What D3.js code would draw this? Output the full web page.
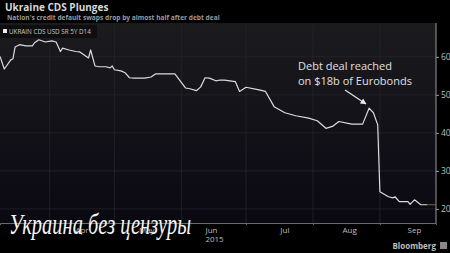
<!DOCTYPE html>
<html>
<head>
<meta charset="UTF-8">
<script src="https://d3js.org/d3.v7.min.js"></script>
<style>
  body { margin: 0; background: #000; }
  svg { display: block; }
  text { font-family: 'Open Sans', 'DejaVu Sans', sans-serif; }
</style>
</head>
<body>
<svg id="chart" width="450" height="253"></svg>
<script>
// values
var dates = ["2015-03-09","2015-03-11","2015-03-14","2015-03-15","2015-03-16","2015-03-18","2015-03-21",
  "2015-03-24","2015-03-25","2015-03-27","2015-03-30","2015-04-02","2015-04-04","2015-04-06","2015-04-07",
  "2015-04-10","2015-04-13","2015-04-15","2015-04-17","2015-04-19","2015-04-20","2015-04-22","2015-04-24",
  "2015-04-27","2015-04-29","2015-04-30","2015-05-01","2015-05-04","2015-05-06","2015-05-08","2015-05-10",
  "2015-05-15","2015-05-18","2015-05-20","2015-05-29","2015-05-30","2015-06-03","2015-06-05","2015-06-08",
  "2015-06-10","2015-06-12","2015-06-14","2015-06-17","2015-06-19","2015-06-21","2015-06-26","2015-06-28",
  "2015-07-01","2015-07-07","2015-07-10","2015-07-14","2015-07-19","2015-07-24","2015-07-30","2015-08-03",
  "2015-08-07","2015-08-10","2015-08-13","2015-08-19","2015-08-24","2015-08-27","2015-08-29","2015-08-31",
  "2015-09-01","2015-09-02","2015-09-05","2015-09-07","2015-09-08","2015-09-10","2015-09-14","2015-09-15",
  "2015-09-17","2015-09-20","2015-09-23"];
var cds = [60.1,56.8,59.2,59.5,62.6,63.2,62.9,
  62.9,63.7,64.5,63.9,64.2,63.9,61.4,62.3,
  61.8,61.4,61.3,60.5,59.7,61.8,57.6,57.4,
  57.4,57.1,57.6,56.6,56.3,55.8,54.5,54.4,
  54.4,54.7,55.5,55.5,54.8,51.8,51.6,51.1,
  52.1,54.5,54.4,53.7,53.9,53.9,53.5,50.9,
  52.0,51.3,50.9,46.9,45.3,44.5,43.9,43.2,
  41.2,41.7,43.0,42.3,42.3,46.5,45.3,42.1,
  24.5,24.2,23.2,22.9,23.2,21.9,21.9,21.2,
  22.4,21.1,21.1];
var lastDates = ["2015-09-23","2015-09-27"];
var yTicks = [20, 30, 40, 50, 60];
var monthStarts = ["2015-04-01","2015-05-01","2015-06-01","2015-07-01","2015-08-01","2015-09-01"];
var monthLabels = ["Apr","May","Jun","Jul","Aug","Sep"];
var monthLabelDates = ["2015-04-16","2015-05-16","2015-06-15","2015-07-19","2015-08-18","2015-09-17"];

var parse = d3.timeParse("%Y-%m-%d");
var svg = d3.select("#chart");

var plotLeft = 0, plotRight = 436, plotTop = 23, plotBottom = 223;

var x = d3.scaleTime()
  .domain([parse("2015-03-09"), parse("2015-09-27")])
  .range([plotLeft, plotRight]);
var y = d3.scaleLinear()
  .domain([16.3, 68.9])
  .range([plotBottom, plotTop]);

var defs = svg.append("defs");

// plot background
var grad = defs.append("linearGradient")
  .attr("id", "bg").attr("x1", 0).attr("y1", 0).attr("x2", 0).attr("y2", 1);
grad.append("stop").attr("offset", "0%").attr("stop-color", "#1b1b1e");
grad.append("stop").attr("offset", "100%").attr("stop-color", "#0a0912");
svg.append("rect")
  .attr("x", plotLeft).attr("y", plotTop)
  .attr("width", plotRight - plotLeft).attr("height", plotBottom - plotTop)
  .attr("fill", "url(#bg)");

// grid
svg.append("g").selectAll("line")
  .data(yTicks).enter().append("line")
  .attr("x1", plotLeft).attr("x2", plotRight)
  .attr("y1", function (d) { return y(d); })
  .attr("y2", function (d) { return y(d); })
  .attr("stroke", "#24242a").attr("stroke-width", 0.8);
svg.append("g").selectAll("line")
  .data(monthStarts).enter().append("line")
  .attr("x1", function (d) { return x(parse(d)); })
  .attr("x2", function (d) { return x(parse(d)); })
  .attr("y1", plotTop).attr("y2", plotBottom)
  .attr("stroke", "#24242a").attr("stroke-width", 0.8);

// legend
svg.append("rect").attr("x", 0).attr("y", 25).attr("width", 97).attr("height", 13).attr("fill", "#0e0e10");
svg.append("rect").attr("x", 3).attr("y", 29).attr("width", 4).attr("height", 4).attr("fill", "#eee");
svg.append("text").attr("x", 9).attr("y", 34)
  .attr("font-size", 6.3).attr("fill", "#c8c8c8")
  .text("UKRAIN CDS USD SR 5Y D14");

// axes
var yAxis = d3.axisRight(y).tickValues(yTicks).tickSize(3).tickPadding(2);
var gy = svg.append("g").attr("transform", "translate(" + plotRight + ",0)").call(yAxis);
gy.select(".domain").attr("stroke", "#9a9a9a").attr("d", "M0," + plotTop + "V" + plotBottom);
gy.selectAll(".tick line").attr("stroke", "#9a9a9a");
gy.selectAll(".tick text").attr("fill", "#bdbdbd").attr("font-size", 8.5)
  .style("font-family", "'Open Sans', 'DejaVu Sans', sans-serif");

var xAxis = d3.axisBottom(x).tickValues(monthStarts.map(parse)).tickSize(2).tickFormat("");
var gx = svg.append("g").attr("transform", "translate(0," + plotBottom + ")").call(xAxis);
gx.select(".domain").attr("stroke", "#6a6a6a");
gx.selectAll(".tick line").attr("stroke", "#6a6a6a");

svg.append("g").selectAll("text")
  .data(monthLabels).enter().append("text")
  .attr("x", function (d, i) { return x(parse(monthLabelDates[i])); })
  .attr("y", 233)
  .attr("text-anchor", "middle")
  .attr("font-size", 8).attr("fill", "#bdbdbd")
  .text(function (d) { return d; });
svg.append("text")
  .attr("x", x(parse(monthLabelDates[2])) + 3).attr("y", 242)
  .attr("text-anchor", "middle")
  .attr("font-size", 8).attr("fill", "#bdbdbd")
  .text("2015");

// series
var line = d3.line()
  .x(function (d) { return x(d[0]); })
  .y(function (d) { return y(d[1]); });
svg.append("path")
  .datum(dates.map(function (d, i) { return [parse(d), cds[i]]; }))
  .attr("d", line)
  .attr("fill", "none").attr("stroke", "#dcdcdc").attr("stroke-width", 1.2)
  .attr("stroke-linejoin", "round");
svg.append("path")
  .datum(lastDates.map(function (d) { return [parse(d), cds[cds.length - 1]]; }))
  .attr("d", line)
  .attr("fill", "none").attr("stroke", "#8a5a3a").attr("stroke-width", 1);

// titles
svg.append("text").attr("x", 5).attr("y", 11)
  .attr("font-size", 10).attr("font-weight", "bold").attr("fill", "#d8d8d8")
  .text("Ukraine CDS Plunges");
svg.append("text").attr("x", 7).attr("y", 20)
  .attr("font-size", 6.6).attr("font-weight", "bold").attr("fill", "#9a9a9a")
  .text("Nation's credit default swaps drop by almost half after debt deal");

// annotation
svg.append("text").attr("x", 298).attr("y", 70)
  .attr("font-size", 11).attr("fill", "#e0e0e0")
  .text("Debt deal reached");
svg.append("text").attr("x", 298).attr("y", 84.5)
  .attr("font-size", 11).attr("fill", "#e0e0e0")
  .text("on $18b of Eurobonds");
defs.append("marker")
  .attr("id", "arrow").attr("viewBox", "0 0 10 10")
  .attr("refX", 9).attr("refY", 5)
  .attr("markerWidth", 6).attr("markerHeight", 6)
  .attr("markerUnits", "userSpaceOnUse")
  .attr("orient", "auto")
  .append("path").attr("d", "M0,0L10,5L0,10z").attr("fill", "#e8e8e8");
svg.append("line")
  .attr("x1", 345).attr("y1", 90).attr("x2", 366).attr("y2", 104)
  .attr("stroke", "#e8e8e8").attr("stroke-width", 1.2)
  .attr("marker-end", "url(#arrow)");

// footer
svg.append("text").attr("x", 436).attr("y", 249)
  .attr("text-anchor", "end")
  .attr("font-size", 8).attr("font-weight", "bold").attr("fill", "#bdbdbd")
  .text("Bloomberg");
svg.append("rect").attr("x", 440).attr("y", 242).attr("width", 7).attr("height", 7).attr("fill", "#888");

// watermark
svg.append("text").attr("x", 9).attr("y", 234)
  .attr("font-size", 29).attr("font-style", "italic").attr("fill", "#f4f4f4")
  .style("font-family", "'Liberation Serif', 'DejaVu Serif', serif")
  .attr("textLength", 182).attr("lengthAdjust", "spacingAndGlyphs")
  .text("Украина без цензуры");
</script>
</body>
</html>
